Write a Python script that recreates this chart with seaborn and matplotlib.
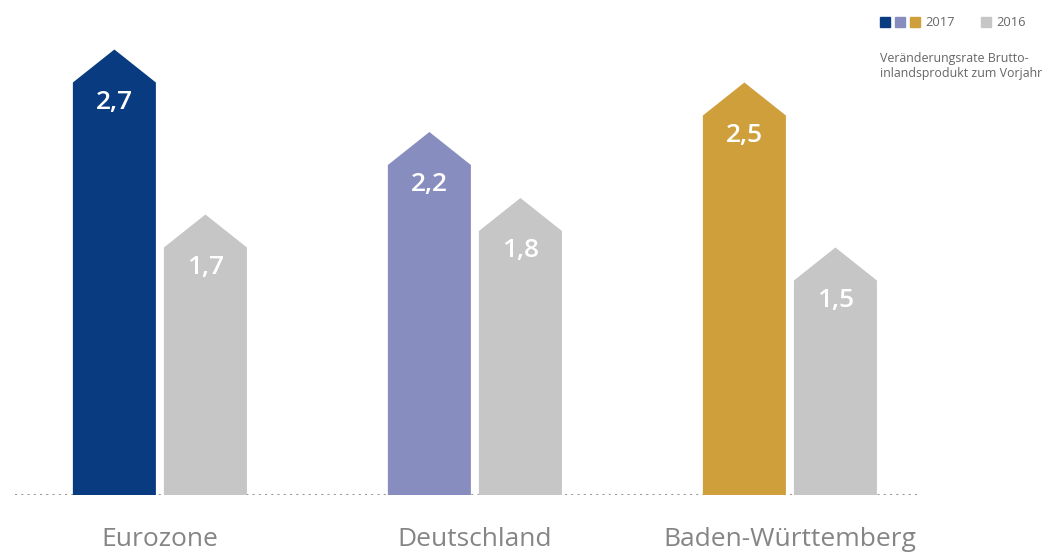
import matplotlib
matplotlib.use('Agg')
import matplotlib.pyplot as plt
from matplotlib.patches import Polygon, Rectangle
import seaborn as sns
import pandas as pd

regions = ['Eurozone', 'Deutschland', 'Baden-Württemberg']
years = ['2017', '2016']
values_2017 = [2.7, 2.2, 2.5]
values_2016 = [1.7, 1.8, 1.5]
colors_2017 = ['#083b80', '#878dbe', '#cf9f3c']
color_2016 = '#c6c6c6'
subtitle = 'Veränderungsrate Brutto-\ninlandsprodukt zum Vorjahr'

df = pd.DataFrame({
    'region': regions * 2,
    'year': ['2017'] * 3 + ['2016'] * 3,
    'value': values_2017 + values_2016,
})

sns.set_style('white')
plt.rcParams['font.family'] = ['Open Sans', 'DejaVu Sans']

W, H = 1049, 553
fig = plt.figure(figsize=(W / 100, H / 100), dpi=100)
ax = fig.add_axes([15 / W, 58 / H, 905 / W, 495 / H])

sns.barplot(data=df, x='region', y='value', hue='year', hue_order=years,
            order=regions, palette={'2017': colors_2017[0], '2016': color_2016},
            width=0.578, gap=0.088, errorbar=None, legend=False, ax=ax)

ax.set_ylim(0, 3)
ax.set_xlim(-0.46, 2.413)

# turn the rectangles into arrow shapes
tip = 0.2
bars = sorted(ax.patches, key=lambda p: p.get_x())
for i, p in enumerate(bars):
    x, w, h = p.get_x(), p.get_width(), p.get_height()
    if i % 2 == 0:
        col = colors_2017[i // 2]
    else:
        col = color_2016
    pts = [(x, 0), (x, h - tip), (x + w / 2, h), (x + w, h - tip), (x + w, 0)]
    ax.add_patch(Polygon(pts, closed=True, facecolor=col, edgecolor='none', zorder=3))
    p.remove()
    ax.text(x + w / 2, h - tip - 0.16, f'{h:.1f}'.replace('.', ','),
            ha='center', va='baseline', color='white', fontsize=19,
            fontweight='semibold', zorder=4)

ax.axhline(0, color='#999999', lw=1.5, linestyle=(0, (1, 2)), zorder=2)

for s in ax.spines.values():
    s.set_visible(False)
ax.set_yticks([])
ax.set_xlabel('')
ax.set_ylabel('')
ax.tick_params(axis='x', length=0, pad=23, labelsize=19, labelcolor='#858585')

# legend
leg_x = [880, 895, 910]
for lx, c in zip(leg_x, colors_2017):
    fig.add_artist(Rectangle((lx / W, 1 - 27 / H), 10 / W, 10 / H,
                             transform=fig.transFigure, color=c))
fig.text(925 / W, 1 - 22 / H, '2017', fontsize=9.3, color='#666666', va='center')
fig.add_artist(Rectangle((981 / W, 1 - 27 / H), 10 / W, 10 / H,
                         transform=fig.transFigure, color=color_2016))
fig.text(996 / W, 1 - 22 / H, '2016', fontsize=9.3, color='#666666', va='center')
fig.text(880 / W, 1 - 52 / H, subtitle, fontsize=8.9, color='#666666',
         va='top', linespacing=1.2)

fig.savefig('out.png', dpi=100)
